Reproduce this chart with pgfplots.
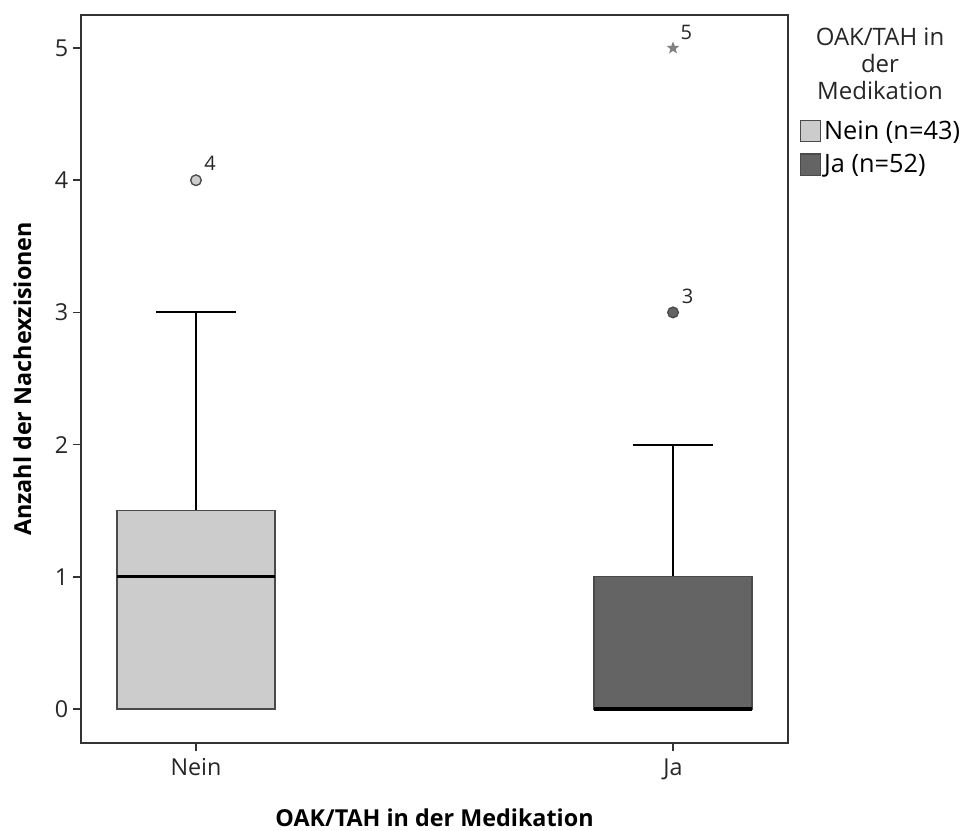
\documentclass[border=0pt]{standalone}
\usepackage{fontspec}
\setmainfont{Open Sans}
\usepackage{pgfplots}
\pgfplotsset{compat=1.18}
\usepgfplotslibrary{statistics}
\definecolor{boxlight}{HTML}{CCCCCC}
\definecolor{boxdark}{HTML}{646464}
\definecolor{edge}{HTML}{4A4A4A}
\definecolor{axisc}{HTML}{333333}
\pgfdeclareplotmark{fstar}{%
  \pgfpathmoveto{\pgfpointpolar{90}{\pgfplotmarksize}}%
  \pgfpathlineto{\pgfpointpolar{126}{0.42\pgfplotmarksize}}%
  \pgfpathlineto{\pgfpointpolar{162}{\pgfplotmarksize}}%
  \pgfpathlineto{\pgfpointpolar{198}{0.42\pgfplotmarksize}}%
  \pgfpathlineto{\pgfpointpolar{234}{\pgfplotmarksize}}%
  \pgfpathlineto{\pgfpointpolar{270}{0.42\pgfplotmarksize}}%
  \pgfpathlineto{\pgfpointpolar{306}{\pgfplotmarksize}}%
  \pgfpathlineto{\pgfpointpolar{342}{0.42\pgfplotmarksize}}%
  \pgfpathlineto{\pgfpointpolar{18}{\pgfplotmarksize}}%
  \pgfpathlineto{\pgfpointpolar{54}{0.42\pgfplotmarksize}}%
  \pgfpathclose
  \pgfusepathqfill
}
\begin{document}
\begin{tikzpicture}
\useasboundingbox (0,0) rectangle (723pt,623.25pt);
\begin{axis}[
  at={(60.75pt,66pt)}, anchor=south west,
  scale only axis, width=530.25pt, height=546pt,
  xmin=0.759, xmax=2.241, ymin=-0.257, ymax=5.25,
  xtick={1,2}, xticklabels={Nein,Ja},
  ytick={0,1,2,3,4,5},
  tick align=outside, tick pos=left, major tick length=6pt,
  axis line style={draw=axisc, line width=1.1pt},
  every tick/.style={axisc, line width=1.1pt},
  tick label style={font=\fontsize{17.5}{20}\selectfont, text=black!85},
  /pgf/number format/assume math mode=true,
  xticklabel style={yshift=-2pt},
  clip=false,
  xlabel={OAK/TAH in der Medikation},
  ylabel={Anzahl der Nachexzisionen},
  every axis x label/.style={at={(axis description cs:0.5,0)}, anchor=center, yshift=-56pt, font=\bfseries\fontsize{17.5}{20}\selectfont},
  every axis y label/.style={at={(axis description cs:0,0.5)}, anchor=center, xshift=-44pt, rotate=90, font=\bfseries\fontsize{17.5}{20}\selectfont},
  boxplot/draw direction=y,
  boxplot/draw/lower whisker/.code={},
  boxplot/every box/.style={draw=edge, line width=1pt},
  boxplot/every whisker/.style={black, line width=1.5pt},
  boxplot/every median/.style={black, line width=2.4pt},
  legend style={at={(rel axis cs:1,1)}, anchor=north west, xshift=9pt, yshift=-77pt,
    draw=none, fill=none, font=\fontsize{19}{22}\selectfont, inner sep=0pt,
    row sep=6pt, /tikz/every even column/.append style={column sep=0pt}},
  legend cell align=left,
  legend image code/.code={\draw[#1, draw=edge, line width=0.9pt] (0pt,-8pt) rectangle (15pt,8pt);},
]
\addplot+[forget plot, fill=boxlight, draw=edge, boxplot prepared={lower whisker=0, lower quartile=0, median=1, upper quartile=1.5, upper whisker=3, draw position=1, box extend=0.331, whisker extend=0.168}] coordinates {};
\addplot+[forget plot, fill=boxdark, draw=edge, boxplot prepared={lower whisker=0, lower quartile=0, median=0, upper quartile=1, upper whisker=2, draw position=2, box extend=0.331, whisker extend=0.168}] coordinates {};
% outliers
\addplot[forget plot, only marks, mark=*, mark size=4pt, mark options={fill=boxlight, draw=edge, line width=1pt},
  nodes near coords, point meta=explicit symbolic,
  every node near coord/.style={font=\fontsize{15}{18}\selectfont, anchor=center, xshift=10.5pt, yshift=12.5pt, text=black!85}]
  coordinates {(1,4) [4]};
\addplot[forget plot, only marks, mark=*, mark size=4pt, mark options={fill=boxdark, draw=edge, line width=1pt},
  nodes near coords, point meta=explicit symbolic,
  every node near coord/.style={font=\fontsize{15}{18}\selectfont, anchor=center, xshift=11pt, yshift=12pt, text=black!85}]
  coordinates {(2,3) [3]};
\addplot[forget plot, only marks, mark=fstar, mark size=5pt, mark options={fill=black!50, draw=none},
  nodes near coords, point meta=explicit symbolic,
  every node near coord/.style={font=\fontsize{15}{18}\selectfont, anchor=center, xshift=10pt, yshift=11.5pt, text=black!85}]
  coordinates {(2,5) [5]};
\addlegendimage{fill=boxlight}
\addlegendentry{Nein (n=43)}
\addlegendimage{fill=boxdark}
\addlegendentry{Ja (n=52)}
\node[align=center, anchor=north, font=\fontsize{18}{20.5}\selectfont, text=black!85] at (rel axis cs:1,1) [xshift=69pt, yshift=-6pt] {OAK/TAH in\\der\\Medikation};
\end{axis}
\end{tikzpicture}
\end{document}
